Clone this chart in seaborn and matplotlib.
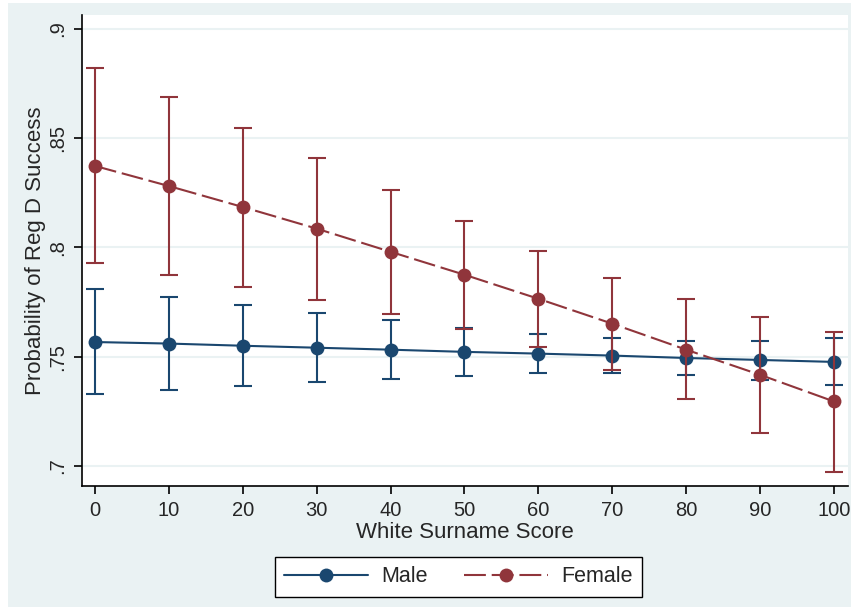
import numpy as np
import pandas as pd
import seaborn as sns
import matplotlib
matplotlib.use("Agg")
import matplotlib.pyplot as plt
from matplotlib.patches import Rectangle
from matplotlib.lines import Line2D

# ---- data ----
scores = [0, 10, 20, 30, 40, 50, 60, 70, 80, 90, 100]
male_mean = [0.7567, 0.7560, 0.7550, 0.7541, 0.7532, 0.7522, 0.7514, 0.7505, 0.7494, 0.7485, 0.7476]
male_hi = [0.7812, 0.7774, 0.7737, 0.7700, 0.7666, 0.7632, 0.7604, 0.7584, 0.7570, 0.7572, 0.7584]
male_lo = [0.7327, 0.7347, 0.7364, 0.7384, 0.7398, 0.7413, 0.7424, 0.7425, 0.7417, 0.7394, 0.7372]
female_mean = [0.8373, 0.8281, 0.8185, 0.8086, 0.7980, 0.7875, 0.7765, 0.7651, 0.7532, 0.7417, 0.7295]
female_hi = [0.8820, 0.8687, 0.8549, 0.8411, 0.8265, 0.8121, 0.7983, 0.7862, 0.7763, 0.7682, 0.7615]
female_lo = [0.7928, 0.7873, 0.7818, 0.7760, 0.7697, 0.7627, 0.7544, 0.7437, 0.7307, 0.7150, 0.6971]
groups = ["Male", "Female"]
y_ticks = [0.7, 0.75, 0.8, 0.85, 0.9]
y_ticklabels = [".7", ".75", ".8", ".85", ".9"]
x_ticks = scores

NAVY = "#1a476f"
MAROON = "#90353b"
BG = "#eaf2f3"
DASH = (10.5, 2.8)

df = pd.DataFrame({
    "score": scores * 2,
    "prob": male_mean + female_mean,
    "lo": male_lo + female_lo,
    "hi": male_hi + female_hi,
    "group": [groups[0]] * len(scores) + [groups[1]] * len(scores),
})

sns.set_theme(style="white")
plt.rcParams["font.family"] = ["Liberation Sans", "DejaVu Sans"]

fig = plt.figure(figsize=(8.51, 6.07), dpi=100)
fig.patch.set_facecolor("white")
fig.add_artist(Rectangle((8 / 851, 0), 1 - 8 / 851, 1 - 3 / 607, transform=fig.transFigure,
                         facecolor=BG, edgecolor="none", zorder=-10))
ax = fig.add_axes([82 / 851, 1 - 486 / 607, (848 - 82) / 851, (486 - 15) / 607])
ax.set_facecolor("white")

palette = {"Male": NAVY, "Female": MAROON}

# confidence-interval bars
for g in groups:
    sub = df[df["group"] == g]
    ax.errorbar(sub["score"], sub["prob"],
                yerr=[sub["prob"] - sub["lo"], sub["hi"] - sub["prob"]],
                fmt="none", ecolor=palette[g], elinewidth=1.5, capsize=6.5,
                capthick=1.5, zorder=2 if g == "Male" else 4)

sns.lineplot(data=df, x="score", y="prob", hue="group", style="group",
             palette=palette, markers={"Male": "o", "Female": "o"},
             dashes={"Male": "", "Female": DASH},
             markersize=10, markeredgewidth=0, linewidth=1.5,
             ax=ax, legend=False, zorder=3)
for ln in ax.lines:
    if matplotlib.colors.to_hex(ln.get_color()) == MAROON:
        ln.set_zorder(5)

ax.set_xlim(-1.76, 101.9)
ax.set_ylim(0.6908, 0.9064)
ax.set_yticks(y_ticks)
ax.set_yticklabels(y_ticklabels, rotation=90, va="center", fontsize=14.5)
ax.set_xticks(x_ticks)
ax.set_xticklabels([str(v) for v in x_ticks], fontsize=14.5)
ax.grid(axis="y", color=BG, linewidth=1.5)
ax.set_axisbelow(True)
for s in ["top", "right"]:
    ax.spines[s].set_visible(False)
for s in ["left", "bottom"]:
    ax.spines[s].set_color("black")
    ax.spines[s].set_linewidth(1.2)
ax.tick_params(axis="both", which="major", length=6, width=1.2, color="black",
               direction="out", left=True, bottom=True, pad=5)
ax.set_xlabel("White Surname Score", fontsize=16, labelpad=1)
ax.set_ylabel("Probability of Reg D Success", fontsize=16, labelpad=1)

handles = [
    Line2D([0], [0], color=NAVY, lw=1.5, marker="o", markersize=10, markeredgewidth=0),
    Line2D([0], [0], color=MAROON, lw=1.5, marker="o", markersize=10, markeredgewidth=0,
           dashes=DASH),
]
leg = fig.legend(handles, groups, loc="center", bbox_to_anchor=(458.5 / 851, 1 - 577 / 607),
                 ncol=2, fontsize=15.5, frameon=True, fancybox=False, handlelength=3.9,
                 columnspacing=1.7, handletextpad=0.6, borderpad=0.45)
leg.get_frame().set_edgecolor("black")
leg.get_frame().set_linewidth(1.0)
leg.get_frame().set_facecolor("white")
leg.get_frame().set_alpha(1)

fig.savefig("out.png", dpi=100, facecolor=fig.get_facecolor())
